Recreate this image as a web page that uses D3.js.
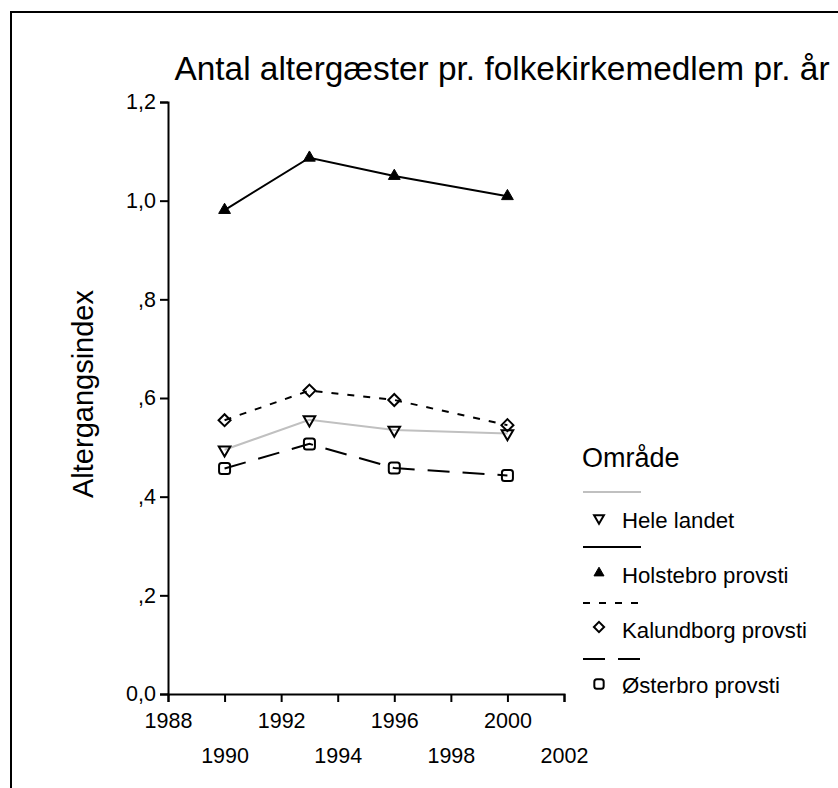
<!DOCTYPE html>
<html>
<head>
<meta charset="utf-8">
<script src="https://cdn.jsdelivr.net/npm/d3@7"></script>
<style>
  html, body { margin: 0; padding: 0; background: #fff; }
  svg { display: block; font-family: "Liberation Sans", Arial, sans-serif; }
</style>
</head>
<body>
<svg id="chart" width="838" height="788"></svg>
<script>
// ---- data ----
const years = [1990, 1993, 1996, 2000];
const seriesNames = ["Hele landet", "Holstebro provsti", "Kalundborg provsti", "Østerbro provsti"];
const heleLandet = [0.495, 0.556, 0.535, 0.528];
const holstebro = [0.981, 1.087, 1.050, 1.009];
const kalundborg = [0.555, 0.615, 0.596, 0.545];
const osterbro = [0.457, 0.507, 0.458, 0.443];
const xTickValues = [1988, 1990, 1992, 1994, 1996, 1998, 2000, 2002];
const yTickValues = [0, 0.2, 0.4, 0.6, 0.8, 1.0, 1.2];
const yTickLabels = ["0,0", ",2", ",4", ",6", ",8", "1,0", "1,2"];
const titleText = "Antal altergæster pr. folkekirkemedlem pr. år";
const yTitle = "Altergangsindex";
const legendTitle = "Område";

const seriesValues = [heleLandet, holstebro, kalundborg, osterbro];
const seriesStyle = [
  { color: "#c0c0c0", dash: null, marker: "tridown" },
  { color: "#000", dash: null, marker: "triup" },
  { color: "#000", dash: "7,9", marker: "diamond" },
  { color: "#000", dash: "22,13", marker: "square" }
];

const svg = d3.select("#chart");

// frame
svg.append("path")
  .attr("d", "M11,788V12H838")
  .attr("fill", "none").attr("stroke", "#000").attr("stroke-width", 2);

const x = d3.scaleLinear().domain([1988, 2002]).range([168, 564]);
const y = d3.scaleLinear().domain([0, 1.2]).range([694, 102]);

// title
svg.append("text")
  .attr("x", 502).attr("y", 80)
  .attr("text-anchor", "middle")
  .attr("font-size", 33.4)
  .text(titleText);

// y axis
const yAxis = svg.append("g")
  .attr("transform", `translate(${x(1988)},0)`)
  .call(d3.axisLeft(y).tickValues(yTickValues)
    .tickFormat((d, i) => yTickLabels[i]).tickSizeOuter(0).tickSize(8).tickPadding(4));
yAxis.select(".domain").attr("stroke-width", 2);
yAxis.selectAll(".tick line").attr("stroke-width", 2);
yAxis.selectAll("text").attr("font-size", 21.5).attr("fill", "#000")
  .attr("font-family", "Liberation Sans, Arial, sans-serif");

// x axis
const xAxis = svg.append("g")
  .attr("transform", `translate(0,${y(0)})`)
  .call(d3.axisBottom(x).tickValues(xTickValues)
    .tickFormat(d3.format("d")).tickSizeOuter(0).tickSize(8).tickPadding(11));
xAxis.select(".domain").attr("stroke-width", 2);
xAxis.selectAll(".tick line").attr("stroke-width", 2);
xAxis.selectAll("text").attr("font-size", 21.5).attr("fill", "#000")
  .attr("font-family", "Liberation Sans, Arial, sans-serif")
  .attr("dy", (d, i) => (i % 2 === 0 ? "0.71em" : "2.33em"));

// y title
svg.append("text")
  .attr("transform", `translate(93,394) rotate(-90)`)
  .attr("text-anchor", "middle")
  .attr("font-size", 29)
  .text(yTitle);

// markers
function drawMarker(g, type, cx, cy, scale) {
  const s = scale || 1;
  if (type === "triup") {
    g.append("path")
      .attr("d", d3.symbol(d3.symbolTriangle, 60 * s * s)())
      .attr("transform", `translate(${cx},${cy})`)
      .attr("fill", "#000").attr("stroke", "#000").attr("stroke-width", 1);
  } else if (type === "tridown") {
    g.append("path")
      .attr("d", d3.symbol(d3.symbolTriangle, 58 * s * s)())
      .attr("transform", `translate(${cx},${cy}) rotate(180)`)
      .attr("fill", "none").attr("stroke", "#000").attr("stroke-width", 2);
  } else if (type === "diamond") {
    const r = 6 * s;
    g.append("path")
      .attr("d", `M${cx},${cy - r}L${cx + r},${cy}L${cx},${cy + r}L${cx - r},${cy}Z`)
      .attr("fill", "none").attr("stroke", "#000").attr("stroke-width", 2);
  } else if (type === "square") {
    const h = 5.5 * s;
    g.append("rect")
      .attr("x", cx - h).attr("y", cy - h).attr("width", 2 * h).attr("height", 2 * h)
      .attr("rx", 2.5).attr("fill", "none").attr("stroke", "#000").attr("stroke-width", 2);
  }
}

const line = d3.line().x(d => x(d[0])).y(d => y(d[1]));

seriesValues.forEach((vals, si) => {
  const st = seriesStyle[si];
  const pts = years.map((yr, i) => [yr, vals[i]]);
  svg.append("path")
    .datum(pts)
    .attr("d", line)
    .attr("fill", "none")
    .attr("stroke", st.color)
    .attr("stroke-width", 2)
    .attr("stroke-dasharray", st.dash);
});
seriesValues.forEach((vals, si) => {
  const st = seriesStyle[si];
  const g = svg.append("g");
  years.forEach((yr, i) => drawMarker(g, st.marker, x(yr), y(vals[i]), 1));
});

// legend
const lg = svg.append("g");
lg.append("text").attr("x", 582).attr("y", 467).attr("font-size", 27).text(legendTitle);
const legendLineY = [492, 547, 603, 659];
const legendMarkY = [518, 573, 627, 684];
const legendTextY = [528, 583, 638, 693];
seriesNames.forEach((name, i) => {
  const st = seriesStyle[i];
  lg.append("line")
    .attr("x1", 583).attr("x2", 641)
    .attr("y1", legendLineY[i]).attr("y2", legendLineY[i])
    .attr("stroke", st.color).attr("stroke-width", 2)
    .attr("stroke-dasharray", st.dash);
  drawMarker(lg, st.marker, 599, legendMarkY[i], 0.85);
  lg.append("text").attr("x", 622).attr("y", legendTextY[i])
    .attr("font-size", 22.2).text(name);
});
</script>
</body>
</html>
